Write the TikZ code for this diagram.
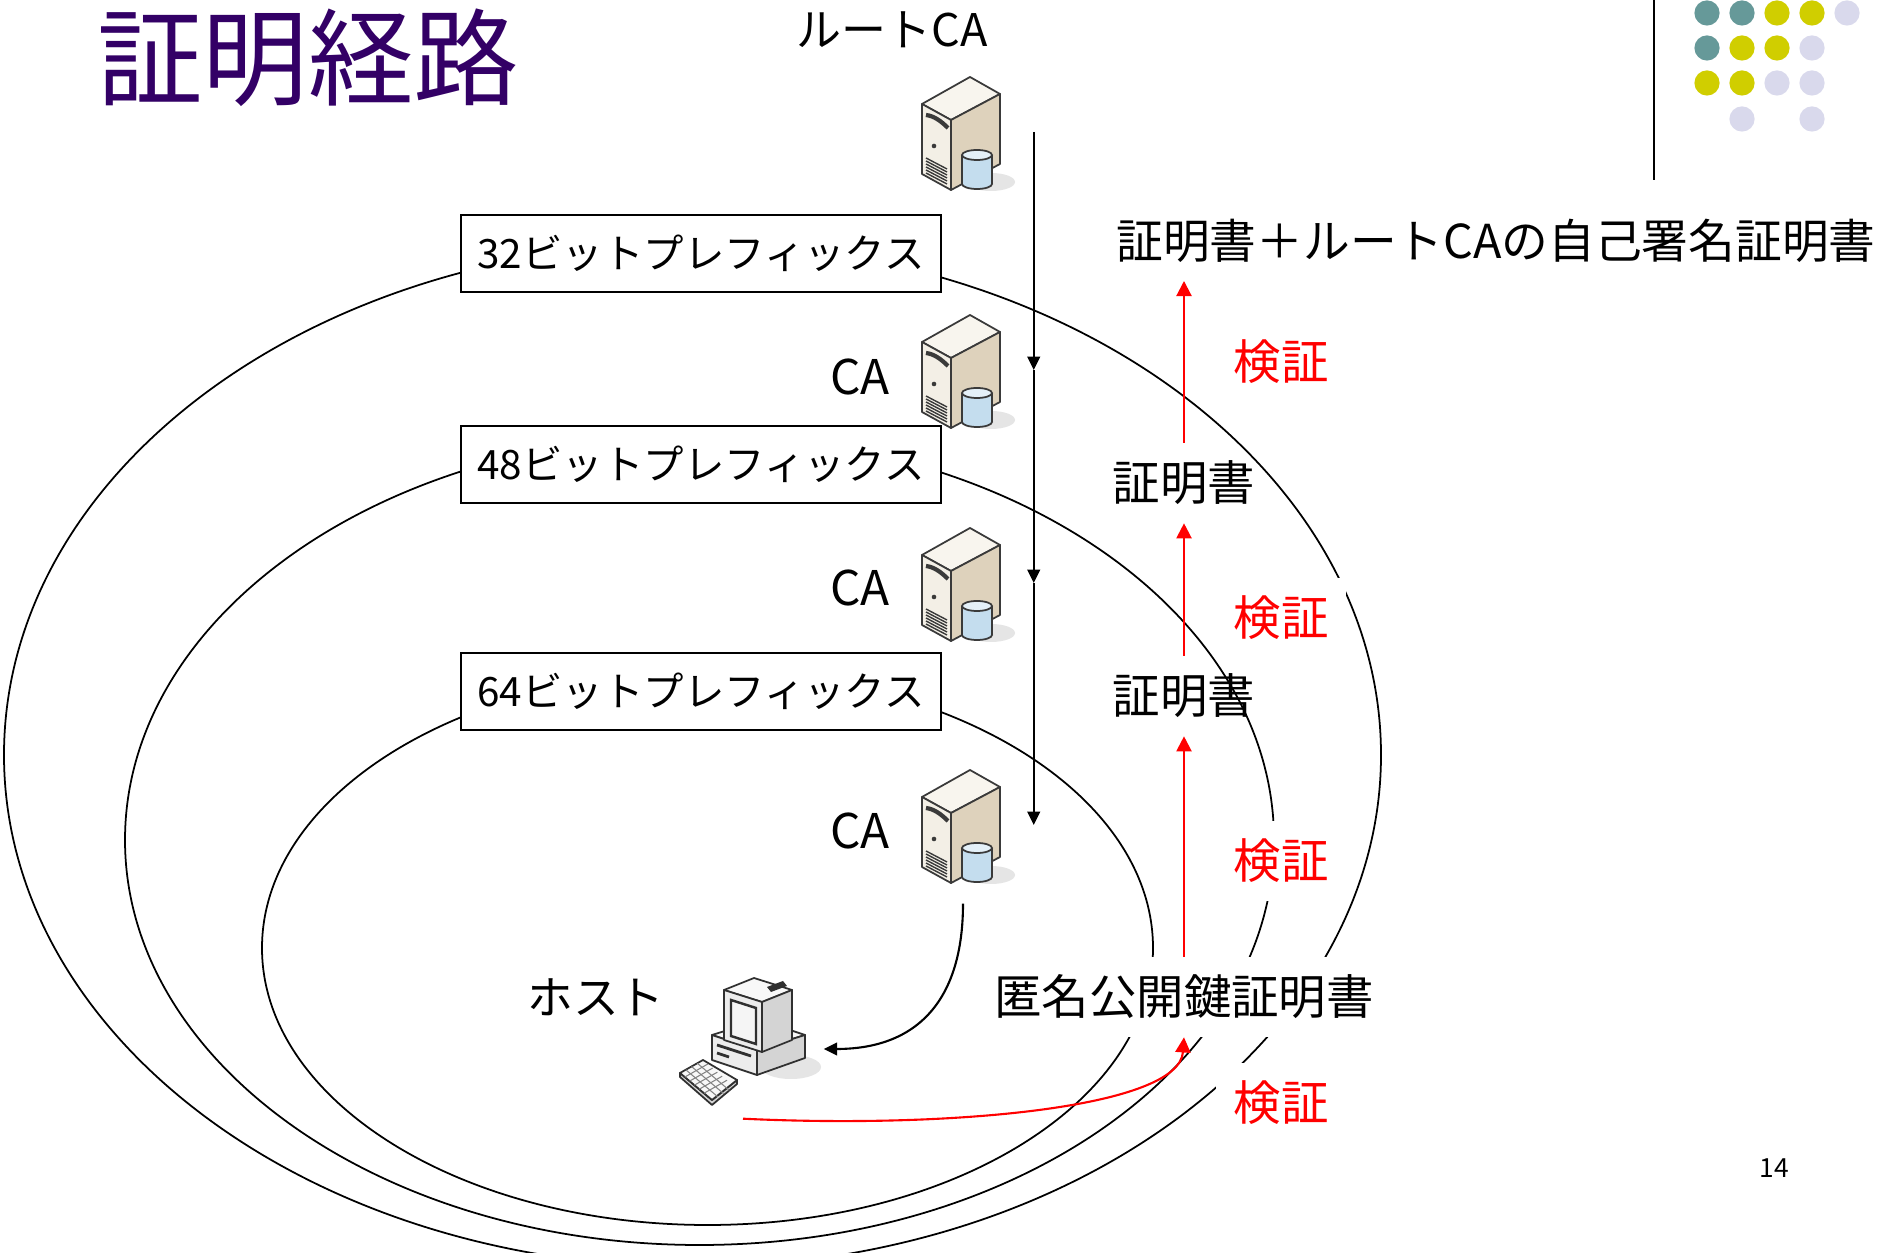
\documentclass[tikz,border=0pt]{standalone}
\usepackage{fontspec}
\setmainfont{Noto Sans CJK JP}
\usetikzlibrary{arrows.meta}

\definecolor{titlepurple}{RGB}{51,0,102}
\definecolor{dotteal}{RGB}{102,153,153}
\definecolor{dotolive}{RGB}{208,206,0}
\definecolor{dotlilac}{RGB}{217,217,236}
\definecolor{srvline}{RGB}{58,58,58}
\definecolor{srvfront}{RGB}{243,239,230}
\definecolor{srvside}{RGB}{222,210,188}
\definecolor{srvtop}{RGB}{248,245,238}
\definecolor{dbblue}{RGB}{196,221,238}
\definecolor{dbtop}{RGB}{228,240,248}
\definecolor{pcline}{RGB}{48,48,48}
\definecolor{pcfront}{RGB}{236,236,236}
\definecolor{pcside}{RGB}{212,212,212}
\definecolor{pctop}{RGB}{248,248,248}

\begin{document}
\begin{tikzpicture}[x=0.1mm, y=-0.1mm,
    ring/.style={black, line width=0.5pt},
    flow/.style={black, line width=0.6pt, -{Triangle[length=3.8pt, width=3.6pt]}},
    check/.style={red, line width=0.6pt, -{Triangle[length=4.3pt, width=4.3pt]}},
    iconbox/.style={inner sep=0pt, minimum width=14mm, minimum height=15.6mm},
    hostbox/.style={inner sep=0pt, minimum width=16mm, minimum height=13.8mm},
    prefixbox/.style={draw, fill=white, line width=0.6pt, inner sep=0pt,
                      minimum width=48mm, minimum height=7.7mm,
                      font=\fontsize{11.5}{14}\selectfont},
    doc/.style={inner sep=5pt, font=\fontsize{13.5}{16}\selectfont},
    verify/.style={doc, fill=white, text=red},
    server/.pic={
      \fill[black!10] (28,50) ellipse (24 and 9);
      \filldraw[srvline, fill=srvtop, line join=round, line width=0.5pt]
        (-41,-28) -- (7,-55) -- (37,-38) -- (-12,-12) -- cycle;
      \filldraw[srvline, fill=srvfront, line join=round, line width=0.5pt]
        (-41,-28) -- (-12,-12) -- (-12,58) -- (-41,42) -- cycle;
      \filldraw[srvline, fill=srvside, line join=round, line width=0.5pt]
        (-12,-12) -- (37,-38) -- (37,32) -- (-12,58) -- cycle;
      % drive slot, button and vents
      \draw[srvline, line width=1.2pt] (-37,-17) .. controls (-29,-16) and (-22,-11) .. (-15,-4);
      \fill[srvline] (-29,14) circle (2.3);
      \foreach \v in {0,...,5}
        \draw[srvline, line width=0.4pt] (-37,{26+3*\v}) -- (-16,{37+3*\v});
      % disk
      \filldraw[srvline, fill=dbblue, line width=0.5pt] (14,52) ellipse (15 and 5);
      \fill[dbblue] (-1,23) rectangle (29,52);
      \draw[srvline, line width=0.5pt] (-1,23) -- (-1,52) (29,23) -- (29,52);
      \filldraw[srvline, fill=dbtop, line width=0.5pt] (14,23) ellipse (15 and 5);
    },
    computer/.pic={
      \fill[black!10] (48,18) ellipse (30 and 12);
      % case
      \filldraw[pcline, fill=pctop, line join=round, line width=0.5pt]
        (-31,-14) -- (17,-29) -- (62,-14) -- (14,1) -- cycle;
      \filldraw[pcline, fill=pcfront, line join=round, line width=0.5pt]
        (-31,-14) -- (14,1) -- (14,26) -- (-31,11) -- cycle;
      \filldraw[pcline, fill=pcside, line join=round, line width=0.5pt]
        (14,1) -- (62,-14) -- (62,9) -- (14,26) -- cycle;
      \draw[pcline, line width=0.8pt] (-26,-4) -- (8,7) (-26,4) -- (-14,8);
      % monitor
      \filldraw[pcline, fill=pctop, line join=round, line width=0.5pt]
        (-19,-59) -- (11,-71) -- (49,-59) -- (19,-47) -- cycle;
      \filldraw[pcline, fill=pcside, line join=round, line width=0.5pt]
        (19,-47) -- (49,-59) -- (49,-9) -- (19,3) -- cycle;
      \filldraw[pcline, fill=pcfront, line join=round, line width=0.5pt]
        (-19,-59) -- (19,-47) -- (19,3) -- (-19,-9) -- cycle;
      \filldraw[pcline, fill=black!4, line width=0.7pt]
        (-12,-49) -- (13,-41) -- (13,-5) -- (-12,-13) -- cycle;
      \fill[pcline] (24,-62) -- (40,-68) -- (44,-63) -- (28,-57) -- cycle;
      % keyboard
      \filldraw[pcline, fill=pcside, line join=round, line width=0.5pt]
        (-63,24) -- (-31,51) -- (-6,31) -- (-6,35) -- (-31,56) -- (-63,28) -- cycle;
      \filldraw[pcline, fill=pctop, line join=round, line width=0.5pt]
        (-63,24) -- (-40,11) -- (-6,31) -- (-31,51) -- cycle;
      \foreach \t in {0.25,0.5,0.75}
        \draw[pcline!60, line width=0.3pt] ({-63+23*\t},{24-13*\t}) -- ({-31+23*\t},{51-13*\t});
      \foreach \s in {0.15,0.3,...,0.9}
        \draw[pcline!60, line width=0.3pt] ({-63+32*\s},{24+27*\s}) -- ({-40+32*\s},{11+27*\s});
    }]

  \fill[white] (0,0) rectangle (1883,1253);
  \useasboundingbox (0,0) rectangle (1883,1253);

  % slide decoration
  \draw[line width=0.6pt] (1654,0) -- (1654,180);
  \foreach \x/\y/\c in {1707/13/dotteal, 1742/13/dotteal, 1777/13/dotolive, 1812/13/dotolive,
                        1847/13/dotlilac, 1707/48/dotteal, 1742/48/dotolive, 1777/48/dotolive,
                        1812/48/dotlilac, 1707/83/dotolive, 1742/83/dotolive, 1777/83/dotlilac,
                        1812/83/dotlilac, 1742/119/dotlilac, 1812/119/dotlilac}
    \fill[\c] (\x,\y) circle (12.6);

  \node[font=\fontsize{30}{34}\selectfont, text=titlepurple] (title) at (308,58) {証明経路};

  % prefix rings
  \foreach \cx/\cy/\rx/\ry in {692.5/755/688.5/512, 699.5/840/574.5/405, 707.5/948/445.5/277}
    \draw[ring] (\cx,\cy) ellipse [x radius=\rx, y radius=\ry];

  \node[prefixbox] (p32) at (701,253.5) {32ビットプレフィックス};
  \node[prefixbox] (p48) at (701,464.5) {48ビットプレフィックス};
  \node[prefixbox] (p64) at (701,691.5) {64ビットプレフィックス};

  % CA chain
  \node[font=\fontsize{12.8}{15}\selectfont] (rootname) at (892,30) {ルートCA};
  \foreach \n/\y in {root/132, ca1/370, ca2/583, ca3/825} {
    \node[iconbox] (\n) at (963,\y) {};
    \pic at (\n) {server};
  }
  \foreach \y in {377, 588, 831}
    \node[font=\fontsize{13.6}{16}\selectfont] at (860,\y) {CA};

  \node[hostbox] (host) at (743,1049) {};
  \pic at (host) {computer};
  \node[doc, font=\fontsize{13}{16}\selectfont] (hostname) at (596,997) {ホスト};

  % certificates and checks
  \node[doc, font=\fontsize{13.3}{16}\selectfont] (rootcert) at (1496,241) {証明書＋ルートCAの自己署名証明書};
  \node[doc] (cert1) at (1184,483) {証明書};
  \node[doc] (cert2) at (1184,696) {証明書};
  \node[doc, fill=white] (anon) at (1184,997) {匿名公開鍵証明書};
  \node[verify] (v1) at (1281,362) {検証};
  \node[verify] (v2) at (1281,618) {検証};
  \node[verify] (v3) at (1281,861) {検証};
  \node[verify] (v4) at (1281,1103) {検証};

  \draw[flow] (root.east) -- (ca1.east);
  \draw[flow] (ca1.east) -- (ca2.east);
  \draw[flow] (ca2.east) -- (ca3.east);
  \draw[flow] (ca3.south) .. controls +(0,95) and +(95,0) .. (host.east);

  \draw[check] (cert1.north) -- (cert1.north |- rootcert.south);
  \draw[check] (cert2.north) -- (cert1.south);
  \draw[check] (anon.north) -- (cert2.south);
  \draw[check] (host.south) .. controls +(210,10) and +(-5,70) .. (anon.south);

  \node[font=\fontsize{7.5}{9}\selectfont] (page) at (1774,1168) {14};
\end{tikzpicture}
\end{document}
